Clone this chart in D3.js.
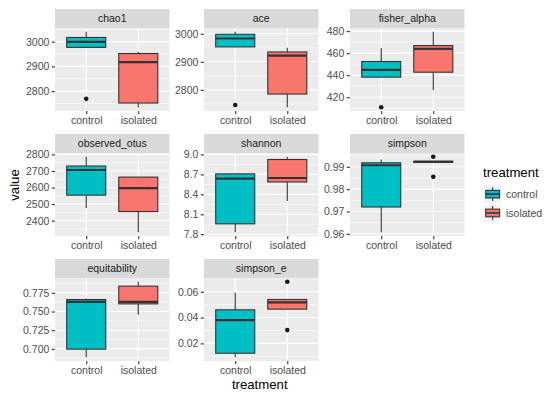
<!DOCTYPE html>
<html>
<head>
<meta charset="utf-8">
<script src="https://cdn.jsdelivr.net/npm/d3@7"></script>
<style>
  html, body { margin: 0; padding: 0; background: #fff; }
  svg { display: block; font-family: "Liberation Sans", Arial, sans-serif; }
</style>
</head>
<body>
<svg id="chart" width="550" height="397"></svg>
<script>
// ---------------- DATA ----------------
const groups = ["control", "isolated"];
const metrics = ["chao1", "ace", "fisher_alpha", "observed_otus", "shannon", "simpson", "equitability", "simpson_e"];

// box stats per group: [ymin, lower, middle, upper, ymax]
const chao1Stats        = [[2977, 2977, 2999, 3017, 3040], [2735, 2752, 2917, 2952, 2958]];
const aceStats          = [[2953, 2953, 2983, 2998, 3007], [2738, 2785, 2922, 2935, 2950]];
const fisherStats       = [[438.2, 438.2, 444.8, 452.4, 464.5], [426.6, 442.7, 463.9, 466.9, 479.4]];
const otusStats         = [[2476, 2554, 2706, 2730, 2786], [2330, 2455, 2596, 2663, 2663]];
const shannonStats      = [[7.83, 7.956, 8.636, 8.708, 8.72], [8.30, 8.586, 8.646, 8.924, 8.965]];
const simpsonStats      = [[0.9607, 0.972, 0.9907, 0.9918, 0.9933], [0.9920, 0.9920, 0.9922, 0.9925, 0.9925]];
const equitStats        = [[0.6888, 0.6996, 0.7629, 0.766, 0.7673], [0.7455, 0.7602, 0.763, 0.7839, 0.7898]];
const simpsonEStats     = [[0.0093, 0.0124, 0.038, 0.046, 0.0592], [0.0465, 0.0465, 0.0517, 0.054, 0.054]];

// outliers per group
const chao1Out    = [[2769], []];
const aceOut      = [[2746], []];
const fisherOut   = [[410.9], []];
const otusOut     = [[], []];
const shannonOut  = [[], []];
const simpsonOut  = [[], [0.9945, 0.9855]];
const equitOut    = [[], []];
const simpsonEOut = [[], [0.0677, 0.0303]];

// tick values and labels
const chao1Ticks    = [2800, 2900, 3000];
const aceTicks      = [2800, 2900, 3000];
const fisherTicks   = [420, 440, 460, 480];
const otusTicks     = [2400, 2500, 2600, 2700, 2800];
const shannonTicks  = [7.8, 8.1, 8.4, 8.7, 9.0];
const simpsonTicks  = [0.96, 0.97, 0.98, 0.99];
const equitTicks    = [0.700, 0.725, 0.750, 0.775];
const simpsonETicks = [0.02, 0.04, 0.06];

const chao1Labels    = ["2800", "2900", "3000"];
const aceLabels      = ["2800", "2900", "3000"];
const fisherLabels   = ["420", "440", "460", "480"];
const otusLabels     = ["2400", "2500", "2600", "2700", "2800"];
const shannonLabels  = ["7.8", "8.1", "8.4", "8.7", "9.0"];
const simpsonLabels  = ["0.96", "0.97", "0.98", "0.99"];
const equitLabels    = ["0.700", "0.725", "0.750", "0.775"];
const simpsonELabels = ["0.02", "0.04", "0.06"];

const fills = ["#00BFC4", "#F8766D"];

// ---------------- BUILD ----------------
const panels = [
  { name: metrics[0], stats: chao1Stats,    out: chao1Out,    ticks: chao1Ticks,    labels: chao1Labels },
  { name: metrics[1], stats: aceStats,      out: aceOut,      ticks: aceTicks,      labels: aceLabels },
  { name: metrics[2], stats: fisherStats,   out: fisherOut,   ticks: fisherTicks,   labels: fisherLabels },
  { name: metrics[3], stats: otusStats,     out: otusOut,     ticks: otusTicks,     labels: otusLabels },
  { name: metrics[4], stats: shannonStats,  out: shannonOut,  ticks: shannonTicks,  labels: shannonLabels },
  { name: metrics[5], stats: simpsonStats,  out: simpsonOut,  ticks: simpsonTicks,  labels: simpsonLabels },
  { name: metrics[6], stats: equitStats,    out: equitOut,    ticks: equitTicks,    labels: equitLabels },
  { name: metrics[7], stats: simpsonEStats, out: simpsonEOut, ticks: simpsonETicks, labels: simpsonELabels }
];

const colLeft = [55, 204, 350];
const panelW = 114.5;
const rowTop = [28, 153, 278];
const panelH = 83;
const stripH = 19;

const svg = d3.select("#chart");
const tickCol = "#4D4D4D";
const tickLineCol = "#333333";

panels.forEach((p, i) => {
  const col = i % 3, row = Math.floor(i / 3);
  const x0 = colLeft[col], y0 = rowTop[row];
  const g = svg.append("g").attr("transform", `translate(${x0},${y0})`);

  // y domain from data with 5% expansion
  const vals = [];
  p.stats.forEach(s => vals.push(s[0], s[4]));
  p.out.forEach(o => o.forEach(v => vals.push(v)));
  const [mn, mx] = d3.extent(vals);
  const pad = (mx - mn) * 0.05;
  const y = d3.scaleLinear().domain([mn - pad, mx + pad]).range([panelH, 0]);
  const x = d3.scalePoint().domain(groups).range([0, panelW]).padding(0.6);
  const bw = x.step() * 0.75;

  // strip
  g.append("rect").attr("x", 0).attr("y", -stripH).attr("width", panelW).attr("height", stripH).attr("fill", "#D9D9D9");
  g.append("text").attr("x", panelW / 2).attr("y", -stripH / 2).attr("dy", "0.35em")
    .attr("text-anchor", "middle").attr("font-size", 10.5).attr("fill", "#1A1A1A").text(p.name);

  // panel background
  g.append("rect").attr("width", panelW).attr("height", panelH).attr("fill", "#EBEBEB");

  // minor grid
  const step = p.ticks[1] - p.ticks[0];
  const minors = [];
  minors.push(p.ticks[0] - step / 2);
  for (let k = 0; k < p.ticks.length - 1; k++) minors.push((p.ticks[k] + p.ticks[k + 1]) / 2);
  minors.push(p.ticks[p.ticks.length - 1] + step / 2);
  const dom = y.domain();
  g.selectAll(".minor").data(minors.filter(v => v >= dom[0] && v <= dom[1])).join("line")
    .attr("x1", 0).attr("x2", panelW).attr("y1", d => y(d)).attr("y2", d => y(d))
    .attr("stroke", "#fff").attr("stroke-width", 0.55);
  // major grid
  g.selectAll(".major").data(p.ticks).join("line")
    .attr("x1", 0).attr("x2", panelW).attr("y1", d => y(d)).attr("y2", d => y(d))
    .attr("stroke", "#fff").attr("stroke-width", 1.1);
  g.selectAll(".vmajor").data(groups).join("line")
    .attr("x1", d => x(d)).attr("x2", d => x(d)).attr("y1", 0).attr("y2", panelH)
    .attr("stroke", "#fff").attr("stroke-width", 1.1);

  // boxes
  groups.forEach((gr, gi) => {
    const s = p.stats[gi];
    const cx = x(gr);
    const bg = g.append("g");
    bg.append("line").attr("x1", cx).attr("x2", cx).attr("y1", y(s[4])).attr("y2", y(s[3]))
      .attr("stroke", tickLineCol).attr("stroke-width", 1.1);
    bg.append("line").attr("x1", cx).attr("x2", cx).attr("y1", y(s[1])).attr("y2", y(s[0]))
      .attr("stroke", tickLineCol).attr("stroke-width", 1.1);
    bg.append("rect").attr("x", cx - bw / 2).attr("width", bw)
      .attr("y", y(s[3])).attr("height", Math.max(y(s[1]) - y(s[3]), 0.01))
      .attr("fill", fills[gi]).attr("stroke", tickLineCol).attr("stroke-width", 1.1);
    bg.append("line").attr("x1", cx - bw / 2).attr("x2", cx + bw / 2).attr("y1", y(s[2])).attr("y2", y(s[2]))
      .attr("stroke", tickLineCol).attr("stroke-width", 2.2);
    bg.selectAll("circle").data(p.out[gi]).join("circle")
      .attr("cx", cx).attr("cy", d => y(d)).attr("r", 2.3).attr("fill", "#1A1A1A");
  });

  // y axis
  const ya = g.append("g").call(d3.axisLeft(y).tickValues(p.ticks).tickSize(3.3).tickPadding(2.4)
    .tickFormat((d, k) => p.labels[k]));
  ya.select(".domain").remove();
  ya.selectAll("line").attr("stroke", tickLineCol).attr("stroke-width", 1.1);
  ya.selectAll("text").attr("fill", tickCol).attr("font-size", 10.5)
    .attr("font-family", "Liberation Sans, Arial, sans-serif");

  // x axis
  const xa = g.append("g").attr("transform", `translate(0,${panelH})`)
    .call(d3.axisBottom(x).tickSize(3.3).tickPadding(2.4));
  xa.select(".domain").remove();
  xa.selectAll("line").attr("stroke", tickLineCol).attr("stroke-width", 1.1);
  xa.selectAll("text").attr("fill", tickCol).attr("font-size", 10.5)
    .attr("font-family", "Liberation Sans, Arial, sans-serif");
});

// axis titles
svg.append("text").attr("x", (colLeft[0] + colLeft[2] + panelW) / 2).attr("y", 389)
  .attr("text-anchor", "middle").attr("font-size", 13.2).attr("fill", "#000").text("treatment");
svg.append("text").attr("transform", `translate(19,${(rowTop[0] - stripH + rowTop[2] + panelH) / 2}) rotate(-90)`)
  .attr("text-anchor", "middle").attr("font-size", 13.2).attr("fill", "#000").text("value");

// legend
const lg = svg.append("g").attr("transform", "translate(483,0)");
lg.append("text").attr("x", 0).attr("y", 177).attr("font-size", 13.2).attr("fill", "#000").text("treatment");
const keySize = 17.3;
groups.forEach((gr, gi) => {
  const ky = 185.5 + gi * keySize + gi * 1.5;
  const kg = lg.append("g").attr("transform", `translate(1,${ky})`);
  kg.append("rect").attr("width", keySize).attr("height", keySize).attr("fill", "#F2F2F2");
  kg.append("line").attr("x1", keySize / 2).attr("x2", keySize / 2).attr("y1", keySize * 0.1).attr("y2", keySize * 0.9)
    .attr("stroke", tickLineCol).attr("stroke-width", 1.1);
  kg.append("rect").attr("x", keySize * 0.1).attr("width", keySize * 0.8)
    .attr("y", keySize * 0.28).attr("height", keySize * 0.44)
    .attr("fill", fills[gi]).attr("stroke", tickLineCol).attr("stroke-width", 1.1);
  kg.append("line").attr("x1", keySize * 0.1).attr("x2", keySize * 0.9).attr("y1", keySize / 2).attr("y2", keySize / 2)
    .attr("stroke", tickLineCol).attr("stroke-width", 1.6);
  lg.append("text").attr("x", 23).attr("y", ky + keySize / 2).attr("dy", "0.35em")
    .attr("font-size", 10.5).attr("fill", tickCol).text(gr);
});
</script>
</body>
</html>
